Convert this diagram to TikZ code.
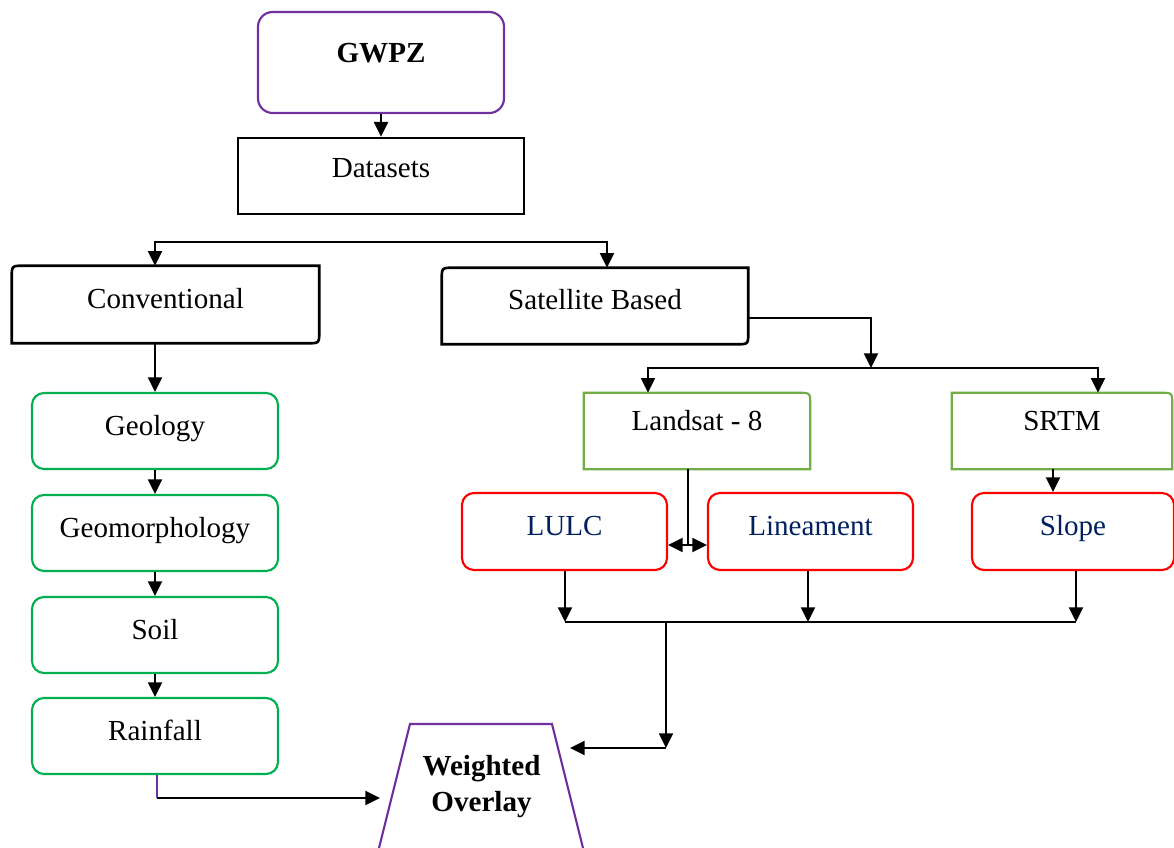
\documentclass[tikz,border=0pt]{standalone}
\usepackage{fontspec}
\setmainfont{Liberation Serif}
\usetikzlibrary{arrows.meta,calc}
\definecolor{wpurple}{HTML}{7030A0}
\definecolor{wgreen}{HTML}{00B050}
\definecolor{lgreen}{HTML}{70AD47}
\definecolor{wred}{HTML}{FF0000}
\definecolor{wnavy}{HTML}{002060}
\newcommand\mydiagbox[1]{%
  \draw[line width=2pt] ($(#1.north west)+(0,12)$) .. controls (#1.north west) .. ($(#1.north west)+(12,0)$)
    -- (#1.north east) -- ($(#1.south east)+(0,-12)$) .. controls (#1.south east) .. ($(#1.south east)+(-12,0)$)
    -- (#1.south west) -- cycle;}
\newcommand\mytrbox[1]{%
  \draw[lgreen,line width=1.6pt] (#1.north west) -- ($(#1.north east)+(-12,0)$) .. controls (#1.north east) .. ($(#1.north east)+(0,12)$)
    -- (#1.south east) -- (#1.south west) -- cycle;}
\begin{document}
\begin{tikzpicture}[x=0.75pt,y=-0.75pt,
  font=\fontsize{21.8}{27}\selectfont,
  basebox/.style={inner sep=0pt, text height=16pt, text depth=10pt, align=center},
  purplebox/.style={basebox, draw=wpurple, line width=1.6pt, rounded corners=11pt},
  blackbox/.style={basebox, draw, line width=2pt},
  hiddenbox/.style={basebox},
  greenbox/.style={basebox, draw=wgreen, line width=1.6pt, rounded corners=9pt, minimum width=184.5pt, minimum height=57pt},
  redbox/.style={basebox, draw=wred, line width=1.6pt, rounded corners=9pt, minimum height=57.75pt, text=wnavy},
  txt/.style={inner sep=0pt, anchor=base},
  conn/.style={line width=1.6pt},
  tip/.tip={Triangle[length=11pt,width=10.5pt]},
  arr/.style={conn, -tip}
]
\useasboundingbox (0,0) rectangle (1174,848);
\clip (0,0) rectangle (1174,848);

% top
\node[purplebox, minimum width=184.5pt, minimum height=75.75pt, text height=13pt, text depth=13pt, font=\fontsize{21.8}{27}\selectfont\bfseries] (gwpz) at (381,62.5) {GWPZ};
\node[blackbox, minimum width=214.5pt, minimum height=57pt, text height=15pt, text depth=12pt] (ds) at (381,176) {Datasets};

% second level
\node[hiddenbox, minimum width=230.25pt, minimum height=57.75pt] (conv) at (165.5,304.5) {Conventional};
\mydiagbox{conv}
\node[hiddenbox, minimum width=229.5pt, minimum height=57pt] (sat) at (595,306) {Satellite Based};
\mydiagbox{sat}

% conventional chain
\node[greenbox] (geo) at (155,431) {Geology};
\node[greenbox] (geom) at (155,533) {Geomorphology};
\node[greenbox] (soil) at (155,635) {Soil};
\node[greenbox] (rain) at (155,736) {Rainfall};

% satellite chain
\node[hiddenbox, minimum width=169.5pt, minimum height=57pt, text height=13pt, text depth=13pt] (land) at (697,431) {Landsat - 8};
\mytrbox{land}
\node[hiddenbox, minimum width=165pt, minimum height=57pt, text height=13pt, text depth=13pt] (srtm) at (1062,431) {SRTM};
\mytrbox{srtm}
\node[redbox, minimum width=153.75pt] (lulc) at (564.5,531.5) {LULC};
\node[redbox, minimum width=153.75pt] (lin) at (810.5,531.5) {Lineament};
\node[redbox, minimum width=151.5pt] (slope) at (1073,531.5) {Slope};

% weighted overlay
\draw[wpurple, line width=1.6pt] (371,880) -- (410,724) -- (552,724) -- (591,880);
\node[txt, font=\fontsize{21.8}{27}\selectfont\bfseries] (wo1) at (481.5,775) {Weighted};
\node[txt, font=\fontsize{21.8}{27}\selectfont\bfseries] (wo2) at (481.5,811) {Overlay};
\coordinate (wol) at (380,798);
\coordinate (wor) at (570,748);

% connectors
\draw[arr] (gwpz) -- (ds);
\coordinate (bl) at (155,242);
\coordinate (br) at (607,242);
\draw[conn, tip-tip] (bl |- conv.north) -- (bl) -- (br) -- (br |- sat.north);
\draw[arr] (conv.south -| geo.north) -- (geo.north);
\draw[arr] (geo) -- (geom);
\draw[arr] (geom) -- (soil);
\draw[arr] (soil) -- (rain);
\coordinate (rf) at (157,798);
\draw[wpurple, line width=1.5pt] (rain.south -| rf) -- (rf);
\draw[arr] (rf) -- (wol);

\coordinate (s1) at (871,318);
\coordinate (s2) at (871,368);
\draw[arr] (sat.east |- s1) -- (s1) -- (s2);
\coordinate (h1) at (648,368);
\coordinate (h2) at (1098,368);
\draw[conn, tip-tip] (h1 |- land.north) -- (h1) -- (h2) -- (h2 |- srtm.north);
\coordinate (sx) at (1053,500);
\draw[arr] (srtm.south -| sx) -- (slope.north -| sx);
\coordinate (lx) at (688,545);
\draw[conn] (land.south -| lx) -- (lx);
\draw[conn, tip-tip] (lulc.east |- lx) -- (lin.west |- lx);

\coordinate (m1) at (565,622);
\coordinate (m2) at (808,622);
\coordinate (m3) at (1076,622);
\draw[arr] (lulc.south -| m1) -- (m1);
\draw[arr] (lin.south -| m2) -- (m2);
\draw[arr] (slope.south -| m3) -- (m3);
\draw[conn] (m1) -- (m3);
\coordinate (m4) at (666,622);
\coordinate (m5) at (666,748);
\draw[arr] (m4) -- (m5);
\draw[arr] (m5) -- (wor);
\end{tikzpicture}
\end{document}
